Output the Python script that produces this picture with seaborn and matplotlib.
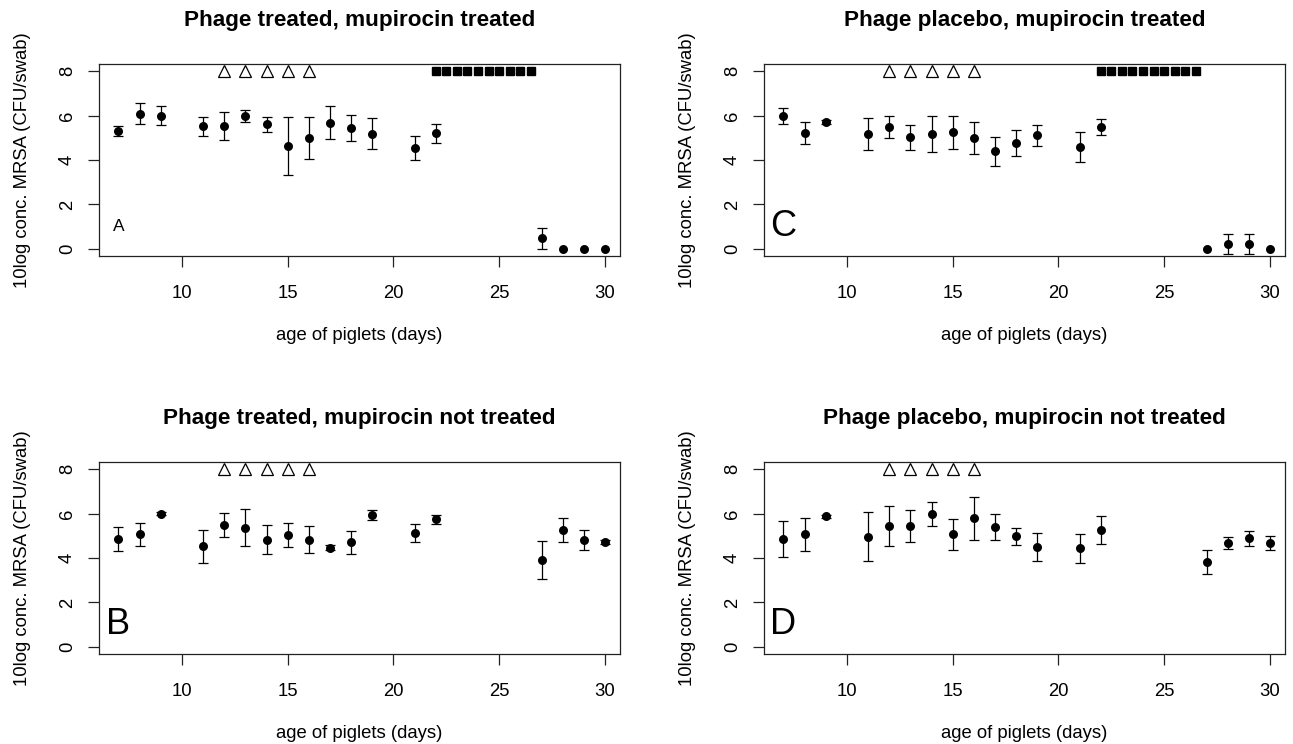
import matplotlib
matplotlib.use("Agg")
from matplotlib import pyplot as plt
import seaborn as sns
import pandas as pd
import numpy as np

days = [7, 8, 9, 11, 12, 13, 14, 15, 16, 17, 18, 19, 21, 22, 27, 28, 29, 30]

# A: phage treated, mupirocin treated
a_mean = [5.30, 6.08, 5.99, 5.51, 5.53, 5.98, 5.60, 4.63, 5.00, 5.68, 5.44, 5.18, 4.55, 5.21, 0.47, 0, 0, 0]
a_sd = [0.22, 0.47, 0.42, 0.41, 0.65, 0.25, 0.35, 1.31, 0.95, 0.73, 0.60, 0.70, 0.53, 0.43, 0.48, 0, 0, 0]
# C: phage placebo, mupirocin treated
c_mean = [5.98, 5.21, 5.72, 5.17, 5.48, 5.02, 5.17, 5.24, 4.99, 4.40, 4.78, 5.12, 4.60, 5.48, 0, 0.22, 0.22, 0]
c_sd = [0.35, 0.50, 0.10, 0.73, 0.49, 0.57, 0.80, 0.75, 0.70, 0.65, 0.58, 0.47, 0.67, 0.36, 0, 0.43, 0.43, 0]
# B: phage treated, mupirocin not treated
b_mean = [4.86, 5.06, 6.00, 4.52, 5.49, 5.37, 4.83, 5.03, 4.83, 4.47, 4.71, 5.93, 5.13, 5.75, 3.90, 5.25, 4.82, 4.73]
b_sd = [0.53, 0.50, 0.08, 0.74, 0.54, 0.84, 0.65, 0.53, 0.60, 0.10, 0.52, 0.23, 0.40, 0.20, 0.85, 0.54, 0.44, 0.08]
# D: phage placebo, mupirocin not treated
d_mean = [4.85, 5.06, 5.87, 4.95, 5.45, 5.42, 5.99, 5.07, 5.78, 5.40, 4.97, 4.50, 4.43, 5.25, 3.84, 4.68, 4.88, 4.67]
d_sd = [0.80, 0.75, 0.08, 1.10, 0.91, 0.72, 0.53, 0.70, 0.96, 0.60, 0.39, 0.62, 0.67, 0.62, 0.54, 0.26, 0.33, 0.30]

phage_days = [12, 13, 14, 15, 16]
mupirocin_days = [22, 22.5, 23, 23.5, 24, 24.5, 25, 25.5, 26, 26.5]

sns.set_style("ticks")
plt.rcParams['font.family'] = ['Liberation Sans', 'DejaVu Sans']
plt.rcParams['text.color'] = 'black'
plt.rcParams['axes.labelcolor'] = 'black'
plt.rcParams['xtick.color'] = 'black'
plt.rcParams['ytick.color'] = 'black'

W, H = 1293, 744
fig = plt.figure(figsize=(W / 100, H / 100), dpi=100)

panels = [
    ("Phage treated, mupirocin treated", "A", 12.5, a_mean, a_sd, True, 99, 64),
    ("Phage placebo, mupirocin treated", "C", 26, c_mean, c_sd, True, 764, 64),
    ("Phage treated, mupirocin not treated", "B", 26, b_mean, b_sd, False, 99, 462),
    ("Phage placebo, mupirocin not treated", "D", 26, d_mean, d_sd, False, 764, 462),
]

for title, letter, lsize, mean, sd, mup, px, py in panels:
    ax = fig.add_axes([px / W, 1 - (py + 192) / H, 521 / W, 192 / H])
    df = pd.DataFrame({"day": days, "mean": mean, "sd": sd})
    err = df[df["sd"] > 0]
    ax.errorbar(err["day"], err["mean"], yerr=err["sd"], fmt="none", ecolor="black",
                elinewidth=0.9, capsize=3.4, capthick=0.9, zorder=2)
    sns.scatterplot(data=df, x="day", y="mean", color="black", s=42, edgecolor="black",
                    linewidth=0, ax=ax, zorder=3)
    ax.plot(phage_days, [8] * len(phage_days), linestyle="none", marker="^", markersize=8.8,
            markerfacecolor="white", markeredgecolor="black", markeredgewidth=0.9)
    if mup:
        ax.plot(mupirocin_days, [8] * len(mupirocin_days), linestyle="none", marker="s",
                markersize=5.9, color="black")
    ax.text(7, 1, letter, fontsize=lsize, ha="center", va="center")
    ax.set_xlim(6.08, 30.71)
    ax.set_ylim(-0.32, 8.32)
    ax.set_xticks([10, 15, 20, 25, 30])
    ax.set_yticks([0, 2, 4, 6, 8])
    ax.tick_params(direction="out", length=7.7, width=0.9, labelsize=13.3, color="#222222")
    ax.tick_params(axis="x", pad=13)
    ax.tick_params(axis="y", pad=9)
    for lab in ax.get_yticklabels():
        lab.set_rotation(90)
        lab.set_va("center")
    for s in ax.spines.values():
        s.set_linewidth(0.9)
        s.set_color("#222222")
    ax.set_xlabel("age of piglets (days)", fontsize=13.3, labelpad=18.5)
    ax.set_ylabel("10log conc. MRSA (CFU/swab)", fontsize=13.3, labelpad=20)
    ax.set_title(title, fontsize=16.2, fontweight="bold", pad=27.5)

plt.savefig("out.png", dpi=100)
